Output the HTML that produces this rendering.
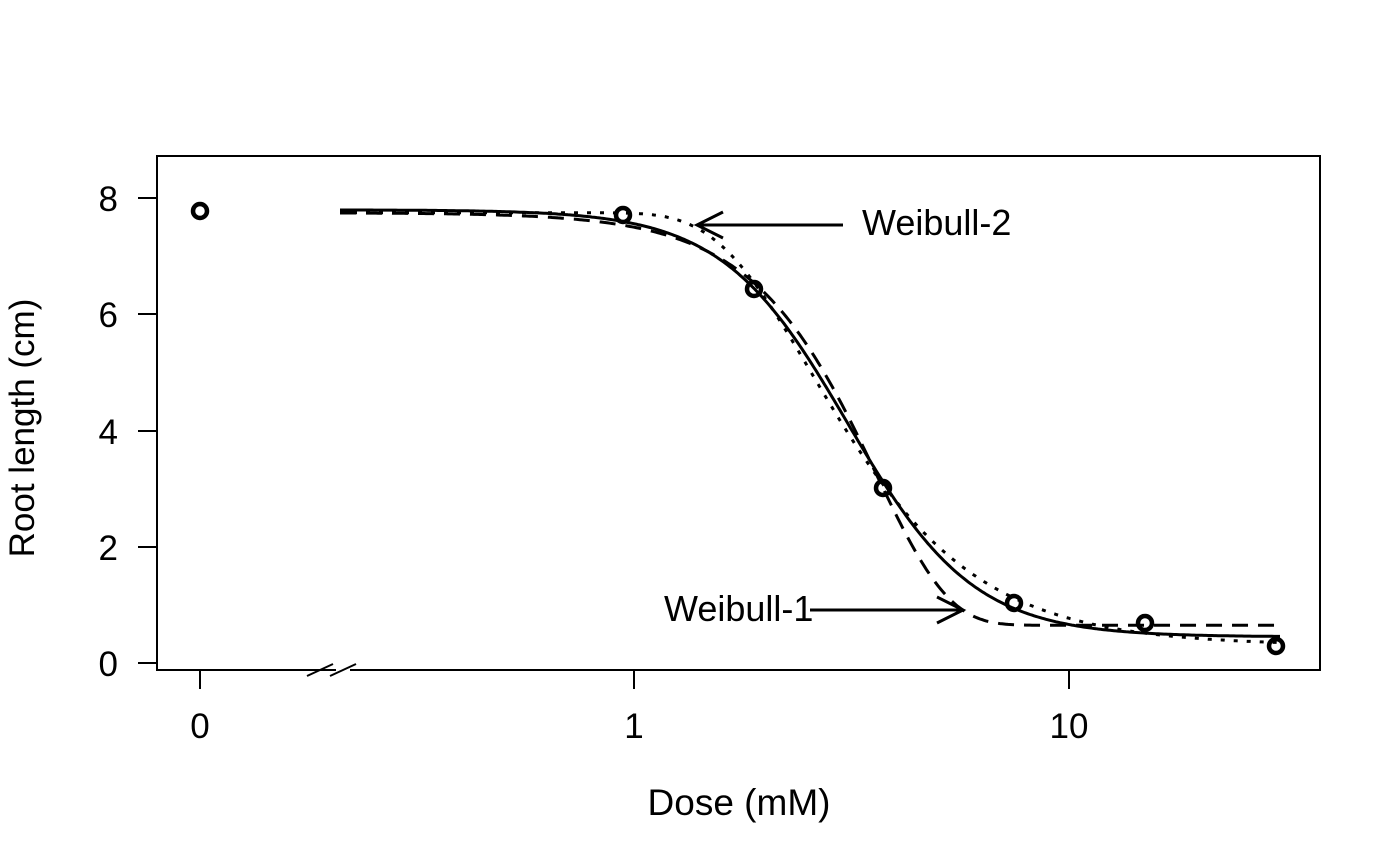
<!DOCTYPE html>
<html><head><meta charset="utf-8"><style>body{margin:0;background:#fff}svg{display:block}text{font-family:"Liberation Sans",Arial,sans-serif;font-size:35px;fill:#000}</style></head><body>
<svg id="s" width="1400" height="866" viewBox="0 0 1400 866">
<g stroke="#000" stroke-width="2" fill="none">
<path d="M336,670 H157 V156 H1320 V670 H350"/>
<line x1="307" y1="676" x2="333" y2="664"/><line x1="330" y1="676" x2="356" y2="664"/>
<line x1="200" y1="670" x2="200" y2="689"/><line x1="634" y1="670" x2="634" y2="689"/><line x1="1069" y1="670" x2="1069" y2="689"/>
<line x1="157" y1="663" x2="138" y2="663"/><line x1="157" y1="547" x2="138" y2="547"/><line x1="157" y1="431" x2="138" y2="431"/><line x1="157" y1="314" x2="138" y2="314"/><line x1="157" y1="198" x2="138" y2="198"/>
</g>
<g text-anchor="end" style="font-size:35px"><text x="118" y="676">0</text><text x="118" y="560">2</text><text x="118" y="444">4</text><text x="118" y="327">6</text><text x="118" y="211">8</text></g>
<g text-anchor="middle"><text x="200" y="738">0</text><text x="634" y="738">1</text><text x="1069" y="738">10</text>
<text x="739" y="815" style="font-size:37px">Dose (mM)</text>
<text transform="translate(34,428) rotate(-90)" style="font-size:35px">Root length (cm)</text></g>
<g id="curves" fill="none" stroke="#000" stroke-width="3"></g>
<g fill="none" stroke="#000" stroke-width="4.5">
<circle cx="200" cy="211" r="7"/><circle cx="623" cy="215" r="7"/><circle cx="754" cy="289" r="7"/><circle cx="883" cy="488" r="7"/><circle cx="1014" cy="603" r="7"/><circle cx="1145" cy="623" r="7"/><circle cx="1276" cy="646" r="7"/>
</g>
<g stroke="#000" stroke-width="3" fill="none">
<path d="M843,225 H697 M723,212 L697,225 L723,238"/>
<path d="M810,610 H963 M937,597 L963,610 L937,623"/>
</g>
<text x="862" y="235" style="font-size:36px">Weibull-2</text>
<text x="664" y="621" style="font-size:36px">Weibull-1</text>
</svg>
<script>
function Y(v){return 663-v*58.1}
function D(px){return Math.pow(10,(px-634)/435)}
var f=[
function(x){return 0.45+7.35/(1+Math.exp(3*Math.log(x/3.1)))},
function(x){return 0.65+7.1*Math.exp(-Math.exp(2.6*Math.log(x/3.6)))},
function(x){return 0.3+7.45*(1-Math.exp(-Math.exp(-2.0*Math.log(x/2.55))))}];
var dash=["","16,10","4,9"];
var g=document.getElementById("curves");
f.forEach(function(fn,i){var d="";for(var px=340;px<=1280;px+=2){d+=(px==340?"M":"L")+px+","+Y(fn(D(px))).toFixed(1)}
var p=document.createElementNS("http://www.w3.org/2000/svg","path");p.setAttribute("d",d);if(dash[i])p.setAttribute("stroke-dasharray",dash[i]);g.appendChild(p)});
</script>
</body></html>
